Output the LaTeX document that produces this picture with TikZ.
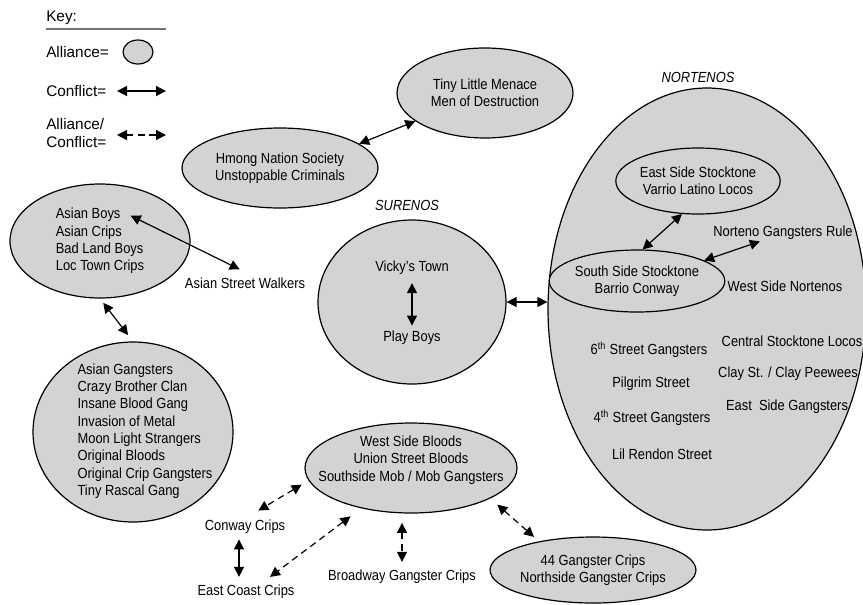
\documentclass[tikz,border=0pt]{standalone}
\usepackage{fontspec}
\setmainfont[FakeStretch=0.88]{Liberation Sans}
\newfontfamily\keyfont{Liberation Sans}
\usetikzlibrary{shapes.geometric,arrows.meta,calc}
\definecolor{allyfill}{RGB}{211,211,213}

\begin{document}
\begin{tikzpicture}[
			x=0.75pt, y=-0.75pt,
			>={Triangle[length=7.5pt,width=7.5pt]},
			font=\fontsize{11}{13}\selectfont,
			ally/.style={
				ellipse,
				draw,
				fill=allyfill,
				line width=0.9pt,
				inner sep=0pt,
				align=center
			},
			gang/.style={
				inner sep=1pt,
				align=center
			},
			keytext/.style={
				inner sep=0pt,
				anchor=west,
				align=left,
				font=\keyfont\fontsize{11.5}{14}\selectfont
			},
			conf/.style={<->, line width=0.9pt},
			mixed/.style={<->, line width=0.9pt, dash pattern=on 5pt off 3.5pt}
			]
			
			\useasboundingbox (0,0) rectangle (863,604);
			
			% key
			\node[keytext] (keyhead) at (46,18) {Key:};
			\draw[line width=1.2pt, black!55] (46,29) -- (166,29);
			\node[keytext] (keyally) at (46,52) {Alliance=};
			\node[ally, minimum width=22.5pt, minimum height=18pt] (keyoval) at (138,52) {};
			\node[keytext] (keyconf) at (46,91) {Conflict=};
			\coordinate (kc1) at (117,91);
			\coordinate (kc2) at (166,91);
			\draw[conf] (kc1) -- (kc2);
			\node[keytext] (keymix) at (46,133) {Alliance/\\Conflict=};
			\coordinate (km1) at (117,135);
			\coordinate (km2) at (166,135);
			\draw[mixed] (km1) -- (km2);
			
			% alliances
			\node[ally, minimum width=132pt, minimum height=67.5pt] (tiny) at (485,93)
			{Tiny Little Menace\\Men of Destruction};
			
			\node[ally, minimum width=147pt, minimum height=60pt] (hmong) at (280,168)
			{Hmong Nation Society\\Unstoppable Criminals};
			
			\node[ally, align=left, minimum width=135pt, minimum height=85.5pt] (asianb) at (100,241)
			{Asian Boys\\Asian Crips\\Bad Land Boys\\Loc Town Crips};
			
			\node[gang] (asw) at (245,283) {Asian Street Walkers};
			
			\node[ally, minimum width=150pt, minimum height=135pt] (asiang) at (133,432) {};
			\node[gang, align=left] (asiangt) at (145,431)
			{Asian Gangsters\\Crazy Brother Clan\\Insane Blood Gang\\Invasion of Metal\\Moon Light Strangers\\Original Bloods\\Original Crip Gangsters\\Tiny Rascal Gang};
			
			% surenos
			\node[ally, minimum width=141pt, minimum height=123pt] (sur) at (412,302) {};
			\node[gang, font=\fontsize{11}{13}\selectfont\itshape] (surname) at (407,205) {SURENOS};
			\node[gang] (vicky) at (412,268) {Vicky's Town};
			\node[gang] (play) at (412,338) {Play Boys};
			
			% nortenos
			\node[ally, minimum width=238.5pt, minimum height=331.5pt] (nort) at (707,309) {};
			\node[gang, font=\fontsize{11}{13}\selectfont\itshape] (nortname) at (698,77) {NORTENOS};
			\node[ally, minimum width=108pt, minimum height=49.5pt] (east) at (698,181)
			{East Side Stocktone\\Varrio Latino Locos};
			\node[ally, minimum width=105pt, minimum height=46.5pt] (south) at (637,281)
			{South Side Stocktone\\Barrio Conway};
			\node[gang] (ngr) at (783,233) {Norteno Gangsters Rule};
			\node[gang] (wsn) at (785,286) {West Side Nortenos};
			\node[gang] (csl) at (792,341) {Central Stocktone Locos};
			\node[gang] (clay) at (788,374) {Clay St. / Clay Peewees};
			\node[gang] (esg) at (787,407) {East~ Side Gangsters};
			\node[gang] (six) at (649,350) {6\textsuperscript{th} Street Gangsters};
			\node[gang] (pil) at (651,384) {Pilgrim Street};
			\node[gang] (four) at (652,418) {4\textsuperscript{th} Street Gangsters};
			\node[gang] (lil) at (662,454) {Lil Rendon Street};
			
			% bloods and crips
			\node[ally, minimum width=159pt, minimum height=67.5pt] (bloods) at (411,468) {};
			\node[gang] (bloodst) at (411,460)
			{West Side Bloods\\Union Street Bloods\\Southside Mob / Mob Gangsters};
			\node[ally, minimum width=130.5pt, minimum height=49.5pt] (crips44) at (593,570)
			{44 Gangster Crips\\Northside Gangster Crips};
			\node[gang] (conway) at (245,527) {Conway Crips};
			\node[gang] (ecc) at (246,592) {East Coast Crips};
			\node[gang] (broadway) at (402,577) {Broadway Gangster Crips};
			
			% conflicts
			\draw[conf] (hmong.17) -- (tiny.202);
			\draw[conf] ([xshift=23pt,yshift=19pt]asianb.center) -- ([xshift=-4pt,yshift=5pt]asw.north);
			\draw[conf, shorten <=4pt, shorten >=6pt] (asianb.south) -- (asiang.north);
			\draw[conf, shorten <=5pt, shorten >=3pt] (vicky.south) -- (play.north);
			\draw[conf] (sur.east) -- (sur.east -| nort.west);
			\draw[conf] (east.244) -- (south.80);
			\draw[conf] (south.17) -- (ngr.200);
			\draw[conf, shorten <=3pt, shorten >=5pt] ([xshift=-4.5pt]conway.south) -- ([xshift=-4.5pt]conway.south |- ecc.north);
			
			% alliance / conflict
			\draw[mixed, shorten <=6pt] (bloods.187) -- ([xshift=10pt,yshift=6pt]conway.north);
			\draw[mixed, shorten <=10pt] (bloods.219) -- ([xshift=18pt,yshift=5pt]ecc.north);
			\draw[mixed, shorten <=7pt, shorten >=5pt] (broadway.north |- bloods.south) -- (broadway.north);
			\draw[mixed, shorten <=7pt, shorten >=5pt] (bloods.339) -- (crips44.152);
			
		\end{tikzpicture}
\end{document}
